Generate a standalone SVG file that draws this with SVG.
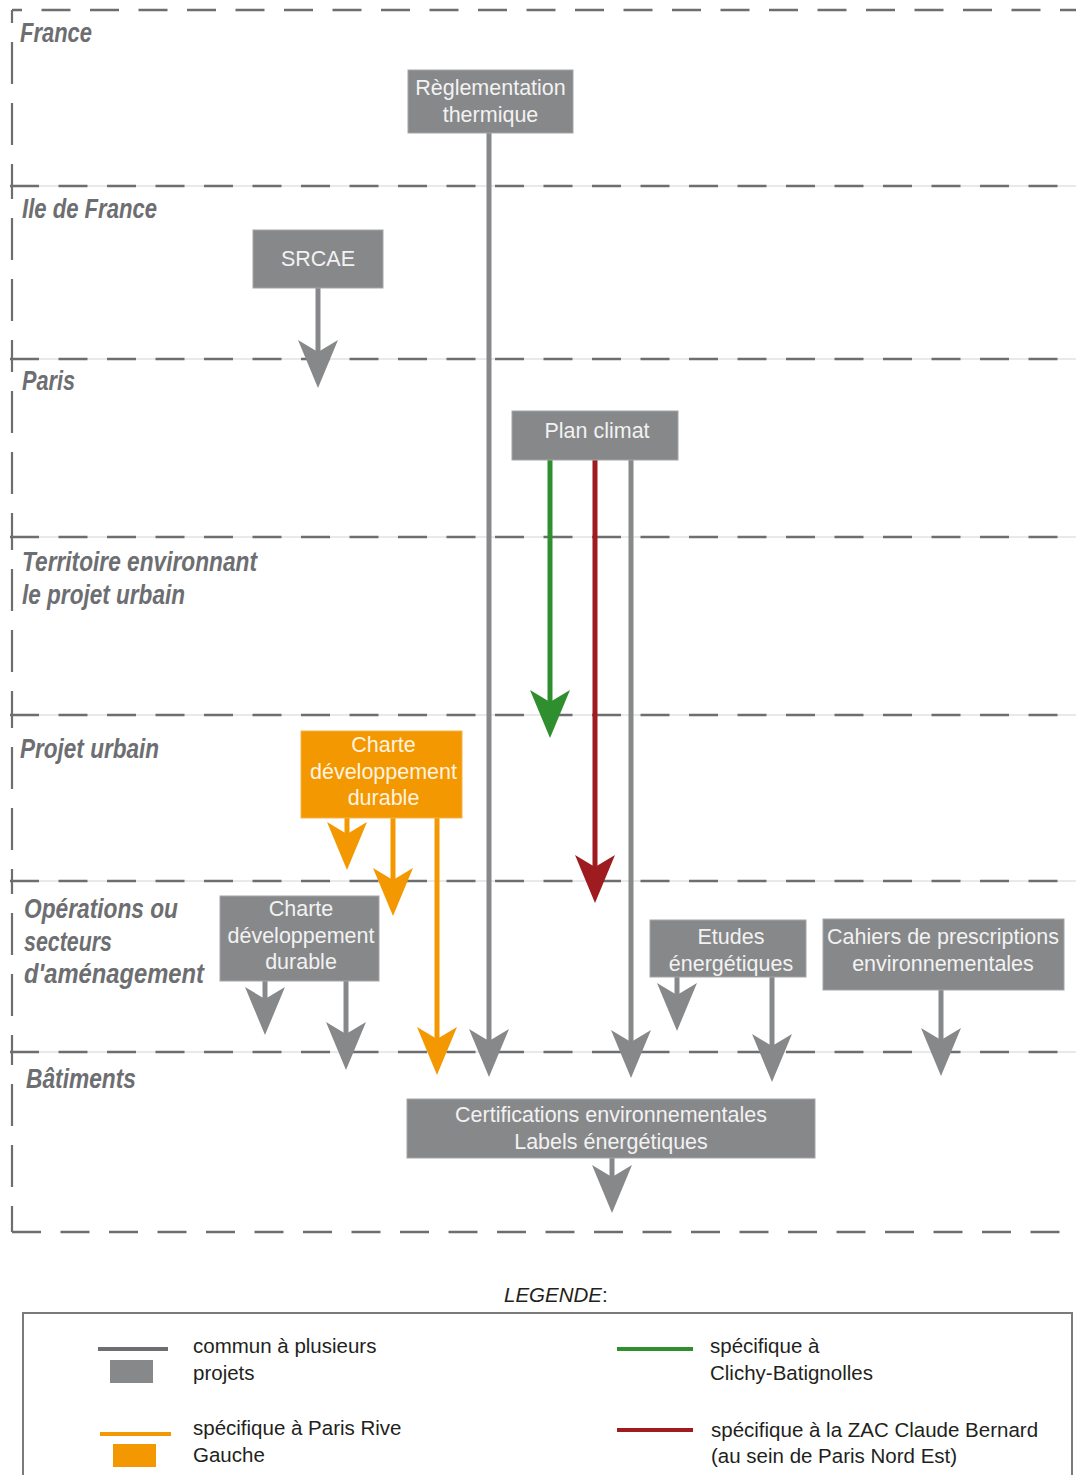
<svg xmlns="http://www.w3.org/2000/svg" xmlns:xlink="http://www.w3.org/1999/xlink" width="1076" height="1475" viewBox="0 0 1076 1475">
<style>
.bg{fill:#ffffff}
.thin{stroke:#d2d3d4;stroke-width:1}
.dash{stroke:#6d6e71;stroke-width:2.6;stroke-dasharray:29 19.5;fill:none}
.vdash{stroke:#6d6e71;stroke-width:2.2;stroke-dasharray:13 19 29 0;fill:none}
.lvl{font-family:"Liberation Sans",Arial,sans-serif;font-weight:bold;font-style:italic;font-size:28px;fill:#6d6e71}
.box{fill:#87888a;stroke:#a4a5a7;stroke-width:1}
.obox{fill:#f39800;stroke:#f6b34d;stroke-width:1}
.bt{font-family:"Liberation Sans",Arial,sans-serif;font-size:21.5px;fill:#f2f2f2;text-anchor:middle}
.ot{font-family:"Liberation Sans",Arial,sans-serif;font-size:21.5px;fill:#fff3e0;text-anchor:middle}
.g{stroke:#87888a;stroke-width:5;fill:none}
.o{stroke:#f39800;stroke-width:5;fill:none}
.gr{stroke:#2f8f2f;stroke-width:5;fill:none}
.r{stroke:#9e1b20;stroke-width:5;fill:none}
.lt{font-family:"Liberation Sans",Arial,sans-serif;font-size:20.5px;fill:#231f20}
</style>
<defs>
<path id="ah" d="M0,0 L-20,-48 L0,-36 L20,-48 Z"/>
</defs>
<rect class="bg" x="0" y="0" width="1076" height="1475"/>

<g id="bands">
<line class="thin" x1="12" y1="186" x2="1076" y2="186"/>
<line class="thin" x1="12" y1="359" x2="1076" y2="359"/>
<line class="thin" x1="12" y1="537" x2="1076" y2="537"/>
<line class="thin" x1="12" y1="715" x2="1076" y2="715"/>
<line class="thin" x1="12" y1="881" x2="1076" y2="881"/>
<line class="thin" x1="12" y1="1052" x2="1076" y2="1052"/>
<line class="dash" x1="12" y1="10" x2="1076" y2="10" style="stroke-dashoffset:19"/>
<line class="dash" x1="10" y1="186" x2="1076" y2="186"/>
<line class="dash" x1="10" y1="359" x2="1076" y2="359"/>
<line class="dash" x1="10" y1="537" x2="1076" y2="537"/>
<line class="dash" x1="10" y1="715" x2="1076" y2="715"/>
<line class="dash" x1="10" y1="881" x2="1076" y2="881"/>
<line class="dash" x1="10" y1="1052" x2="1076" y2="1052"/>
<line class="dash" x1="12" y1="1232" x2="1076" y2="1232"/>
<line class="vdash" x1="12" y1="10" x2="12" y2="186"/>
<line class="vdash" x1="12" y1="186" x2="12" y2="359"/>
<line class="vdash" x1="12" y1="359" x2="12" y2="537"/>
<line class="vdash" x1="12" y1="537" x2="12" y2="715"/>
<line class="vdash" x1="12" y1="715" x2="12" y2="881"/>
<line class="vdash" x1="12" y1="881" x2="12" y2="1052"/>
<line class="vdash" x1="12" y1="1052" x2="12" y2="1232"/>
</g>

<g id="levels">
<text class="lvl" x="20" y="42" textLength="72" lengthAdjust="spacingAndGlyphs">France</text>
<text class="lvl" x="22" y="218" textLength="135" lengthAdjust="spacingAndGlyphs">Ile de France</text>
<text class="lvl" x="22" y="390" textLength="53" lengthAdjust="spacingAndGlyphs">Paris</text>
<text class="lvl" x="22" y="571" textLength="235" lengthAdjust="spacingAndGlyphs">Territoire environnant</text>
<text class="lvl" x="22" y="604" textLength="163" lengthAdjust="spacingAndGlyphs">le projet urbain</text>
<text class="lvl" x="20" y="758" textLength="139" lengthAdjust="spacingAndGlyphs">Projet urbain</text>
<text class="lvl" x="24" y="918" textLength="154" lengthAdjust="spacingAndGlyphs">Opérations ou</text>
<text class="lvl" x="24" y="951" textLength="88" lengthAdjust="spacingAndGlyphs">secteurs</text>
<text class="lvl" x="24" y="983" textLength="180" lengthAdjust="spacingAndGlyphs">d'aménagement</text>
<text class="lvl" x="26" y="1088" textLength="110" lengthAdjust="spacingAndGlyphs">Bâtiments</text>
</g>

<g id="connectors">
<line class="g" x1="489" y1="133" x2="489" y2="1045"/>
<use xlink:href="#ah" x="489" y="1077" fill="#87888a"/>
<line class="g" x1="318" y1="288" x2="318" y2="355"/>
<use xlink:href="#ah" x="318" y="388" fill="#87888a"/>
<line class="gr" x1="550" y1="460" x2="550" y2="705"/>
<use xlink:href="#ah" x="550" y="738" fill="#2f8f2f"/>
<line class="r" x1="595" y1="460" x2="595" y2="870"/>
<use xlink:href="#ah" x="595" y="903" fill="#9e1b20"/>
<line class="g" x1="631" y1="460" x2="631" y2="1045"/>
<use xlink:href="#ah" x="631" y="1078" fill="#87888a"/>
<line class="o" x1="347" y1="818" x2="347" y2="838"/>
<use xlink:href="#ah" x="347" y="870" fill="#f39800"/>
<line class="o" x1="393" y1="818" x2="393" y2="884"/>
<use xlink:href="#ah" x="393" y="916" fill="#f39800"/>
<line class="o" x1="437" y1="818" x2="437" y2="1043"/>
<use xlink:href="#ah" x="437" y="1075" fill="#f39800"/>
<line class="g" x1="265" y1="981" x2="265" y2="1003"/>
<use xlink:href="#ah" x="265" y="1035" fill="#87888a"/>
<line class="g" x1="346" y1="981" x2="346" y2="1038"/>
<use xlink:href="#ah" x="346" y="1070" fill="#87888a"/>
<line class="g" x1="677" y1="977" x2="677" y2="999"/>
<use xlink:href="#ah" x="677" y="1031" fill="#87888a"/>
<line class="g" x1="772" y1="977" x2="772" y2="1050"/>
<use xlink:href="#ah" x="772" y="1082" fill="#87888a"/>
<line class="g" x1="941" y1="990" x2="941" y2="1044"/>
<use xlink:href="#ah" x="941" y="1076" fill="#87888a"/>
<line class="g" x1="612" y1="1158" x2="612" y2="1181"/>
<use xlink:href="#ah" x="612" y="1213" fill="#87888a"/>
</g>

<g id="n-reglementation">
<rect class="box" x="408" y="70" width="165" height="63"/>
<text class="bt" x="490.5" y="95">Règlementation</text>
<text class="bt" x="490.5" y="122">thermique</text>
</g>
<g id="n-srcae">
<rect class="box" x="253" y="230" width="130" height="58"/>
<text class="bt" x="318" y="266">SRCAE</text>
</g>
<g id="n-planclimat">
<rect class="box" x="512" y="411" width="166" height="49"/>
<text class="bt" x="597" y="438">Plan climat</text>
</g>
<g id="n-charte-orange">
<rect class="obox" x="301" y="731" width="161" height="87"/>
<text class="ot" x="383.5" y="752">Charte</text>
<text class="ot" x="383.5" y="779">développement</text>
<text class="ot" x="383.5" y="805">durable</text>
</g>
<g id="n-charte-gray">
<rect class="box" x="220" y="896" width="159" height="85"/>
<text class="bt" x="301" y="916">Charte</text>
<text class="bt" x="301" y="943">développement</text>
<text class="bt" x="301" y="969">durable</text>
</g>
<g id="n-etudes">
<rect class="box" x="650" y="920" width="156" height="57"/>
<text class="bt" x="731" y="944">Etudes</text>
<text class="bt" x="731" y="971">énergétiques</text>
</g>
<g id="n-cahiers">
<rect class="box" x="823" y="919" width="241" height="71"/>
<text class="bt" x="943" y="944">Cahiers de prescriptions</text>
<text class="bt" x="943" y="971">environnementales</text>
</g>
<g id="n-certifications">
<rect class="box" x="407" y="1099" width="408" height="59"/>
<text class="bt" x="611" y="1122">Certifications environnementales</text>
<text class="bt" x="611" y="1149">Labels énergétiques</text>
</g>

<g id="legend">
<text class="lt" x="504" y="1302"><tspan font-style="italic">LEGENDE</tspan>:</text>
<rect x="23" y="1313" width="1049" height="180" fill="none" stroke="#7a7b7d" stroke-width="2"/>
<line x1="98" y1="1349" x2="168" y2="1349" stroke="#6d6e71" stroke-width="4"/>
<rect x="110" y="1360" width="43" height="23" fill="#87888a"/>
<text class="lt" x="193" y="1353">commun à plusieurs</text>
<text class="lt" x="193" y="1380">projets</text>
<line x1="100" y1="1434" x2="171" y2="1434" stroke="#f39800" stroke-width="4"/>
<rect x="113" y="1444" width="43" height="23" fill="#f39800"/>
<text class="lt" x="193" y="1435">spécifique à Paris Rive</text>
<text class="lt" x="193" y="1462">Gauche</text>
<line x1="617" y1="1349" x2="693" y2="1349" stroke="#2f8f2f" stroke-width="4"/>
<text class="lt" x="710" y="1353">spécifique à</text>
<text class="lt" x="710" y="1380">Clichy-Batignolles</text>
<line x1="617" y1="1430" x2="693" y2="1430" stroke="#9e1b20" stroke-width="4"/>
<text class="lt" x="711" y="1437">spécifique à la ZAC Claude Bernard</text>
<text class="lt" x="711" y="1463">(au sein de Paris Nord Est)</text>
</g>
</svg>
